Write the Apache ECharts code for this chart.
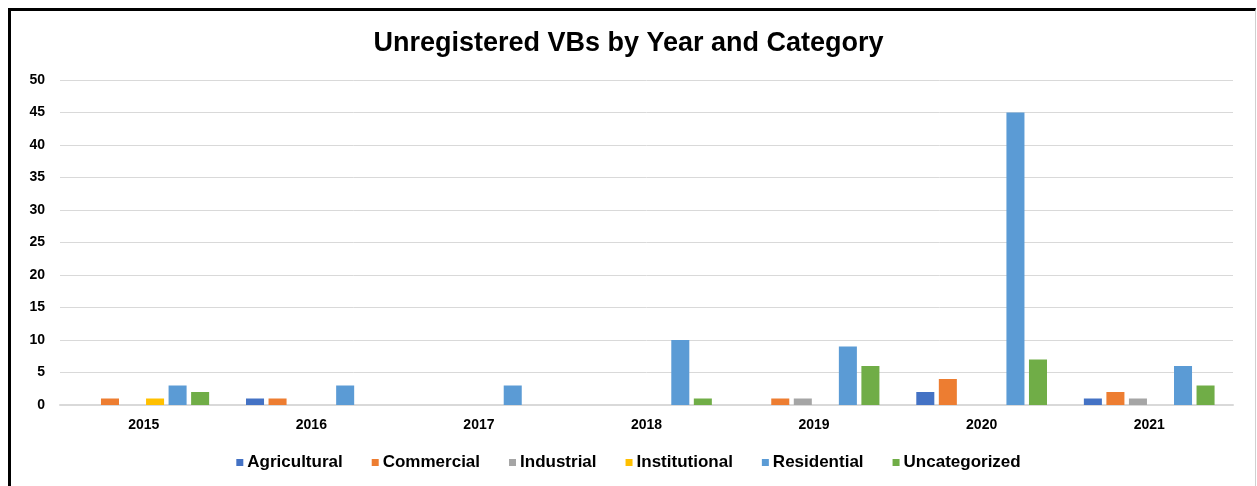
<!DOCTYPE html>
<html>
<head>
<meta charset="utf-8">
<script src="https://cdn.jsdelivr.net/npm/echarts@6/dist/echarts.min.js"></script>
<style>
    html, body { margin: 0; padding: 0; background: #fff; overflow: hidden; }
    #frame { position: absolute; left: 8px; top: 8px; width: 1248px; height: 490px; border-left: 3px solid #000; border-top: 3px solid #000; border-right: 1px solid #d0d0d0; box-sizing: border-box; }
    #chart { position: absolute; left: 0; top: 0; width: 1257px; height: 486px; }
</style>
</head>
<body>
<div id="frame"></div>
<div id="chart"></div>
<script>
var years = ['2015', '2016', '2017', '2018', '2019', '2020', '2021'];
var seriesNames = ['Agricultural', 'Commercial', 'Industrial', 'Institutional', 'Residential', 'Uncategorized'];
var colors = ['#4472c4', '#ed7d31', '#a5a5a5', '#ffc000', '#5b9bd5', '#70ad47'];

var agricultural = [0, 1, 0, 0, 0, 2, 1];
var commercial = [1, 1, 0, 0, 1, 4, 2];
var industrial = [0, 0, 0, 0, 1, 0, 1];
var institutional = [1, 0, 0, 0, 0, 0, 0];
var residential = [3, 3, 3, 10, 9, 45, 6];
var uncategorized = [2, 0, 0, 1, 6, 7, 3];

var allValues = [agricultural, commercial, industrial, institutional, residential, uncategorized];

var series = [];
for (var i = 0; i < seriesNames.length; i++) {
    series.push({
        name: seriesNames[i],
        type: 'bar',
        data: allValues[i],
        barGap: '25%',
        barCategoryGap: '22%',
        itemStyle: { color: colors[i] },
        silent: true
    });
}

var chart = echarts.init(document.getElementById('chart'));
chart.setOption({
    animation: false,
    title: {
        text: 'Unregistered VBs by Year and Category',
        left: 'center',
        top: 25,
        textStyle: { fontFamily: 'Liberation Sans', fontSize: 27, fontWeight: 'bold', color: '#000' }
    },
    legend: {
        data: seriesNames,
        bottom: 10,
        left: 'center',
        itemWidth: 7,
        itemHeight: 7,
        itemGap: 29,
        icon: 'rect',
        textStyle: { fontFamily: 'Liberation Sans', fontSize: 17, fontWeight: 'bold', color: '#000', padding: [0, 0, 0, -1] }
    },
    grid: { left: 60, right: 24, top: 80, bottom: 81 },
    xAxis: {
        type: 'category',
        data: years,
        axisTick: { show: false },
        axisLine: { lineStyle: { color: '#d9d9d9', width: 2 } },
        axisLabel: { fontFamily: 'Liberation Sans', fontSize: 14, fontWeight: 'bold', color: '#000', margin: 13 }
    },
    yAxis: {
        type: 'value',
        min: 0,
        max: 50,
        interval: 5,
        axisLine: { show: false },
        axisTick: { show: false },
        splitLine: { lineStyle: { color: '#d9d9d9', width: 1 } },
        axisLabel: { fontFamily: 'Liberation Sans', fontSize: 14, fontWeight: 'bold', color: '#000', margin: 15 }
    },
    series: series
});
</script>
</body>
</html>
